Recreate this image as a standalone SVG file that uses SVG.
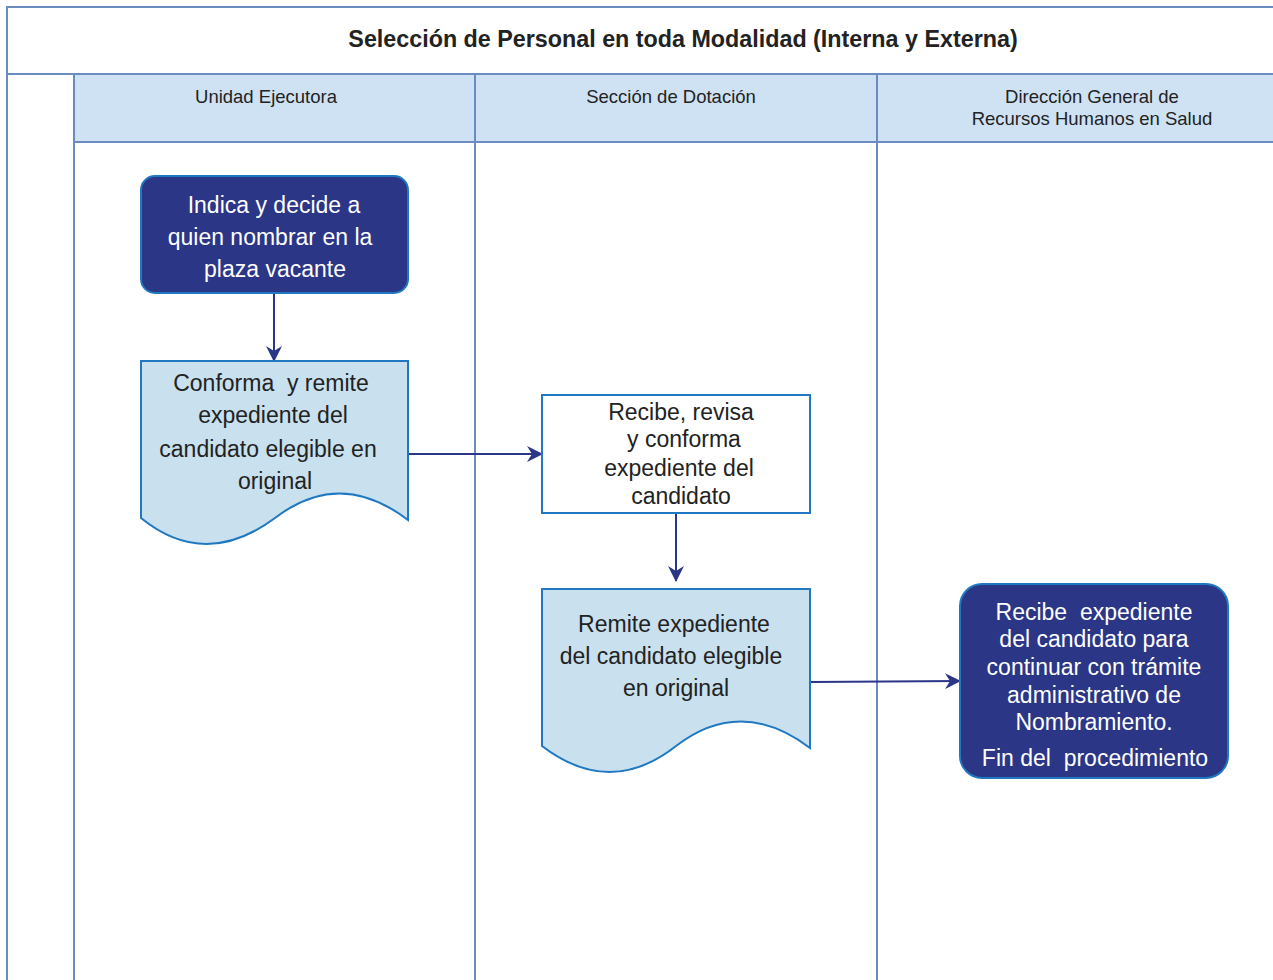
<svg xmlns="http://www.w3.org/2000/svg" width="1273" height="980" viewBox="0 0 1273 980">
<defs>
<style>
.lane{fill:none;stroke:#6a8cc0;stroke-width:2}
.hdr{fill:#cfe2f4;stroke:#6a8cc0;stroke-width:2}
.ht{font-family:"Liberation Sans",Arial,sans-serif;font-size:18.5px;fill:#222;text-anchor:middle}
.title{font-family:"Liberation Sans",Arial,sans-serif;font-size:23.3px;font-weight:bold;fill:#222;text-anchor:middle}
.dark{fill:#2b3686;stroke:#1f78c1;stroke-width:2}
.doc{fill:#c9e0ee;stroke:#1f78c1;stroke-width:2}
.proc{fill:#fff;stroke:#1f78c1;stroke-width:2}
.wt{font-family:"Liberation Sans",Arial,sans-serif;font-size:23px;fill:#fff;text-anchor:middle}
.bt{font-family:"Liberation Sans",Arial,sans-serif;font-size:23px;fill:#222;text-anchor:middle}
.conn{fill:none;stroke:#2b3686;stroke-width:2;marker-end:url(#arr)}
</style>
<marker id="arr" viewBox="0 0 16 16" refX="15" refY="8" markerWidth="16" markerHeight="16" markerUnits="userSpaceOnUse" orient="auto">
<path d="M0,0 L16,8 L0,16 L5,8 Z" fill="#2b3686"/>
</marker>
</defs>
<rect width="1273" height="980" fill="#fff"/>
<g id="pool">
<rect class="lane" x="7" y="7" width="1280" height="990"/>
<line class="lane" x1="7" y1="74" x2="1280" y2="74"/>
<rect class="hdr" x="74" y="74" width="1210" height="68"/>
<line class="lane" x1="74" y1="74" x2="74" y2="990"/>
<line class="lane" x1="475" y1="74" x2="475" y2="990"/>
<line class="lane" x1="877" y1="74" x2="877" y2="990"/>
<text class="title" x="683" y="47">Selección de Personal en toda Modalidad (Interna y Externa)</text>
<text class="ht" x="266" y="103">Unidad Ejecutora</text>
<text class="ht" x="671" y="103">Sección de Dotación</text>
<text class="ht" x="1092" y="103">Dirección General de</text>
<text class="ht" x="1092" y="125">Recursos Humanos en Salud</text>
</g>
<g id="connectors">
<line class="conn" x1="274" y1="294" x2="274" y2="361"/>
<line class="conn" x1="409" y1="454" x2="542" y2="454"/>
<line class="conn" x1="676" y1="514" x2="676" y2="581"/>
<line class="conn" x1="811" y1="682" x2="960" y2="681"/>
</g>
<g id="n1">
<rect class="dark" x="141" y="176" width="267" height="117" rx="14"/>
<text class="wt" x="274" y="213">Indica y decide a</text>
<text class="wt" x="270" y="245">quien nombrar en la</text>
<text class="wt" x="275" y="277">plaza vacante</text>
</g>
<g id="n2">
<path class="doc" d="M141,361 H408 V520 Q340,468 275,518 Q205,570 141,518 Z"/>
<text class="bt" x="271" y="391" xml:space="preserve">Conforma  y remite</text>
<text class="bt" x="273" y="423">expediente del</text>
<text class="bt" x="268" y="457">candidato elegible en</text>
<text class="bt" x="275" y="489">original</text>
</g>
<g id="n3">
<rect class="proc" x="542" y="395" width="268" height="118"/>
<text class="bt" x="681" y="420">Recibe, revisa</text>
<text class="bt" x="684" y="447">y conforma</text>
<text class="bt" x="679" y="476">expediente del</text>
<text class="bt" x="681" y="504">candidato</text>
</g>
<g id="n4">
<path class="doc" d="M542,589 H810 V748 Q741,696 676,746 Q610,798 542,746 Z"/>
<text class="bt" x="674" y="632">Remite expediente</text>
<text class="bt" x="671" y="664">del candidato elegible</text>
<text class="bt" x="676" y="696">en original</text>
</g>
<g id="n5">
<rect class="dark" x="960" y="584" width="268" height="194" rx="22"/>
<text class="wt" x="1094" y="620" xml:space="preserve">Recibe  expediente</text>
<text class="wt" x="1094" y="647">del candidato para</text>
<text class="wt" x="1094" y="675">continuar con trámite</text>
<text class="wt" x="1094" y="703">administrativo de</text>
<text class="wt" x="1094" y="730">Nombramiento.</text>
<text class="wt" x="1095" y="766" xml:space="preserve">Fin del  procedimiento</text>
</g>
</svg>
